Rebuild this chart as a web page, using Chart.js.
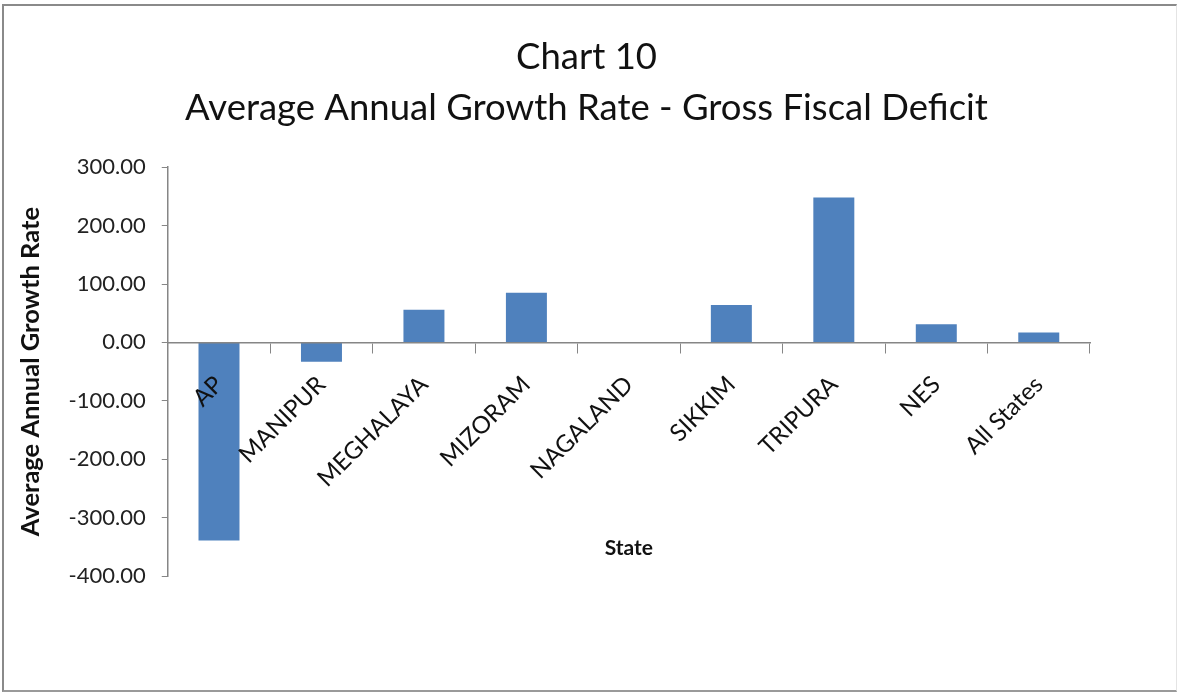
<!DOCTYPE html>
<html>
<head>
<meta charset="utf-8">
<script src="https://cdn.jsdelivr.net/npm/chart.js@4.4.1/dist/chart.umd.min.js"></script>
<style>
  body { margin: 0; background: #fff; }
  #frame {
    position: absolute; left: 2px; top: 4px; width: 1172px; height: 684px;
    border-top: 2px solid #8a8a8a; border-left: 2px solid #8a8a8a;
    border-bottom: 2px solid #9a9a9a; border-right: 1px solid #e4e4e4;
  }
  #wrap { position: absolute; left: 0; top: 0; width: 1177px; height: 692px; }
</style>
</head>
<body>
<div id="frame"></div>
<div id="wrap"><canvas id="myChart" width="1177" height="692"></canvas></div>
<script>
// states and their average annual growth rate of gross fiscal deficit
const states = ['AP', 'MANIPUR', 'MEGHALAYA', 'MIZORAM', 'NAGALAND', 'SIKKIM', 'TRIPURA', 'NES', 'All States'];
const growthRate = [-339, -33, 56, 85, 0, 64, 248, 31, 17];
const yTicks = [-400, -300, -200, -100, 0, 100, 200, 300];

const font = "Lato, 'Open Sans', sans-serif";
const axisGrey = '#868686';

// nudge the title a bit to the right so it sits over the plot, not the full canvas
const titleShift = {
  id: 'titleShift',
  afterLayout(chart) {
    const t = chart.titleBlock;
    if (t) { t.left += 36; t.right += 36; }
  }
};

const ctx = document.getElementById('myChart').getContext('2d');

let myChart = new Chart(ctx, {
  type: 'bar',
  data: {
    labels: states,
    datasets: [{
      label: 'Average Annual Growth Rate',
      data: growthRate,
      backgroundColor: '#4f81bd',
      borderColor: '#4f81bd',
      borderWidth: 0,
      barPercentage: 0.8,
      categoryPercentage: 0.5
    }]
  },
  plugins: [titleShift],
  options: {
    responsive: false,
    animation: false,
    layout: { padding: { left: 11, right: 87, top: 0, bottom: 116 } },
    plugins: {
      legend: { display: false },
      tooltip: { enabled: false },
      title: {
        display: true,
        text: ['Chart 10', 'Average Annual Growth Rate - Gross Fiscal Deficit'],
        color: '#111',
        font: { family: font, size: 36.5, weight: 'normal', lineHeight: 1.4 },
        padding: { top: 32, bottom: 33 }
      }
    },
    scales: {
      x: {
        position: { y: 0 },
        grid: { drawOnChartArea: false, drawTicks: true, tickLength: 10, color: axisGrey, offset: true },
        border: { display: true, color: axisGrey, width: 1.5, z: 1 },
        ticks: {
          z: 1, // labels drawn over the bars (AP sits on its bar)
          color: '#111', minRotation: 45, maxRotation: 45, padding: 18,
          font: { family: font, size: 24 }
        },
        title: {
          display: true, text: 'State', color: '#111',
          font: { family: font, size: 21, weight: 'bold' },
          padding: { top: 25 }
        }
      },
      y: {
        min: -400, max: 300,
        afterBuildTicks: (scale) => { scale.ticks = yTicks.map(v => ({ value: v })); },
        grid: { drawOnChartArea: false, drawTicks: true, tickLength: 6, color: axisGrey },
        border: { display: true, color: axisGrey, width: 1.5 },
        ticks: {
          color: '#222', padding: 16,
          font: { family: font, size: 22 },
          callback: (v) => Number(v).toFixed(2)
        },
        title: {
          display: true, text: 'Average Annual Growth Rate', color: '#111',
          font: { family: font, size: 25.5, weight: 'bold' },
          padding: { bottom: 7 }
        }
      }
    }
  }
});
</script>
</body>
</html>
